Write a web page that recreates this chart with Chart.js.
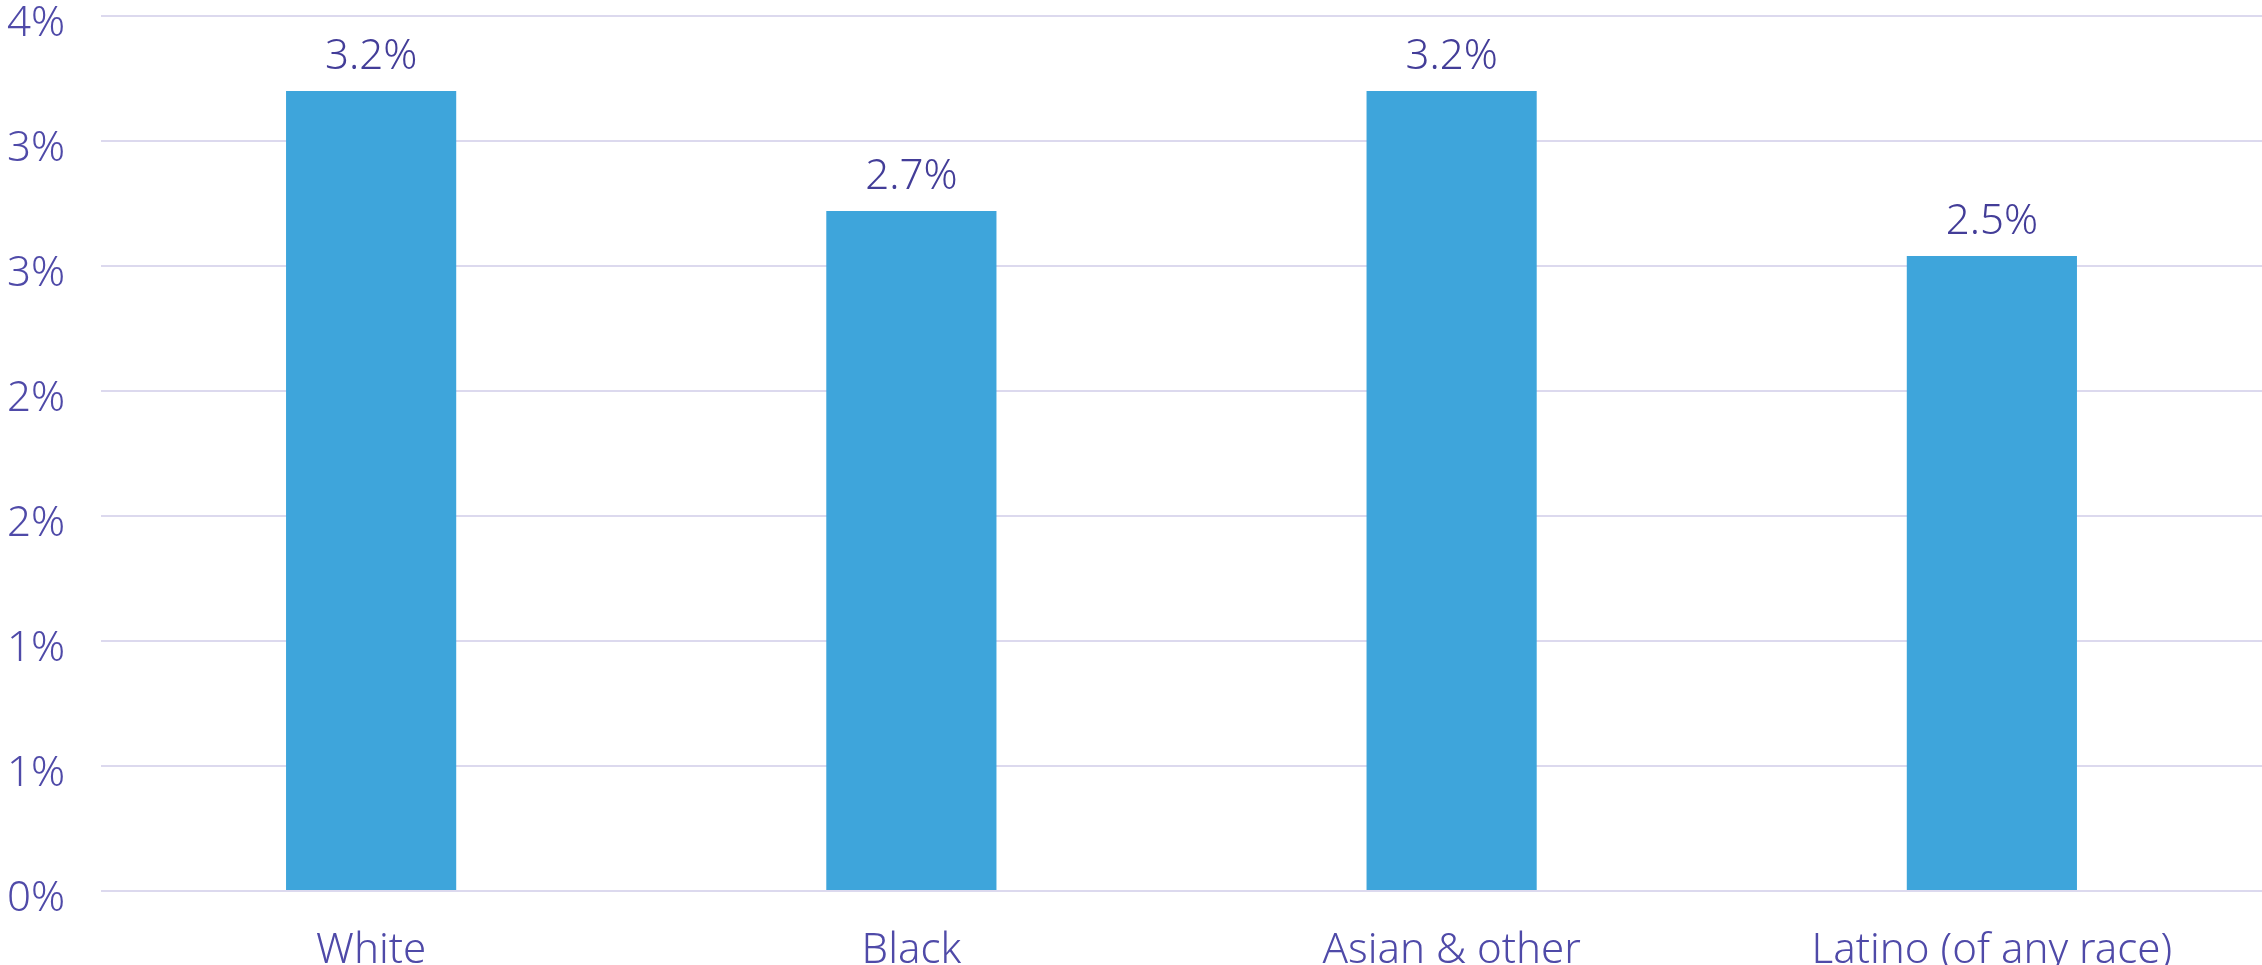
<!DOCTYPE html>
<html>
<head>
<meta charset="utf-8">
<script src="https://cdn.jsdelivr.net/npm/chart.js@4"></script>
<style>
  html, body { margin: 0; padding: 0; background: #fff; }
  #wrap { width: 2262px; height: 965px; position: relative; }
</style>
</head>
<body>
<div id="wrap"><canvas id="chart"></canvas></div>
<script>
// data
const categories = ['White', 'Black', 'Asian & other', 'Latino (of any race)'];
const rates = [3.2, 2.72, 3.2, 2.54];
const yMax = 3.5;
const yStep = 0.5;

const textColor = '#4f4aa8';
const labelColor = '#433d98';
const barColor = '#3ea5db';
const gridColor = '#dcd9ee';
const fontFamily = "'Noto Sans', sans-serif";

// small plugin for the value labels above each bar
const valueLabels = {
  id: 'valueLabels',
  afterDatasetsDraw(chart) {
    const ctx = chart.ctx;
    const meta = chart.getDatasetMeta(0);
    ctx.save();
    ctx.font = '300 42px ' + fontFamily;
    ctx.fillStyle = labelColor;
    ctx.textAlign = 'center';
    ctx.textBaseline = 'alphabetic';
    meta.data.forEach((bar, i) => {
      ctx.fillText(rates[i].toFixed(1) + '%', bar.x, bar.y - 22);
    });
    ctx.restore();
  }
};

new Chart(document.getElementById('chart'), {
  type: 'bar',
  data: {
    labels: categories,
    datasets: [{
      data: rates,
      backgroundColor: barColor,
      borderWidth: 0,
      categoryPercentage: 1,
      barPercentage: 0.315
    }]
  },
  options: {
    responsive: true,
    maintainAspectRatio: false,
    animation: false,
    layout: { padding: { top: 16, right: 0, left: 7, bottom: 0 } },
    plugins: {
      legend: { display: false },
      tooltip: { enabled: false }
    },
    scales: {
      x: {
        grid: { display: false },
        border: { display: false },
        ticks: {
          color: textColor,
          font: { family: fontFamily, size: 42, weight: 300 },
          padding: 27,
          maxRotation: 0
        },
        afterFit(scale) { scale.height = 74; scale.paddingLeft = 0; scale.paddingRight = 0; }
      },
      y: {
        min: 0,
        max: yMax,
        grid: { color: gridColor, lineWidth: 2, drawTicks: false },
        border: { display: false },
        ticks: {
          stepSize: yStep,
          color: textColor,
          font: { family: fontFamily, size: 42, weight: 300 },
          crossAlign: 'far',
          padding: 10,
          labelOffset: 8,
          callback: v => Math.round(v) + '%'
        },
        afterFit(scale) { scale.width = 94; scale.paddingTop = 0; scale.paddingBottom = 0; }
      }
    }
  },
  plugins: [valueLabels]
});
</script>
</body>
</html>
